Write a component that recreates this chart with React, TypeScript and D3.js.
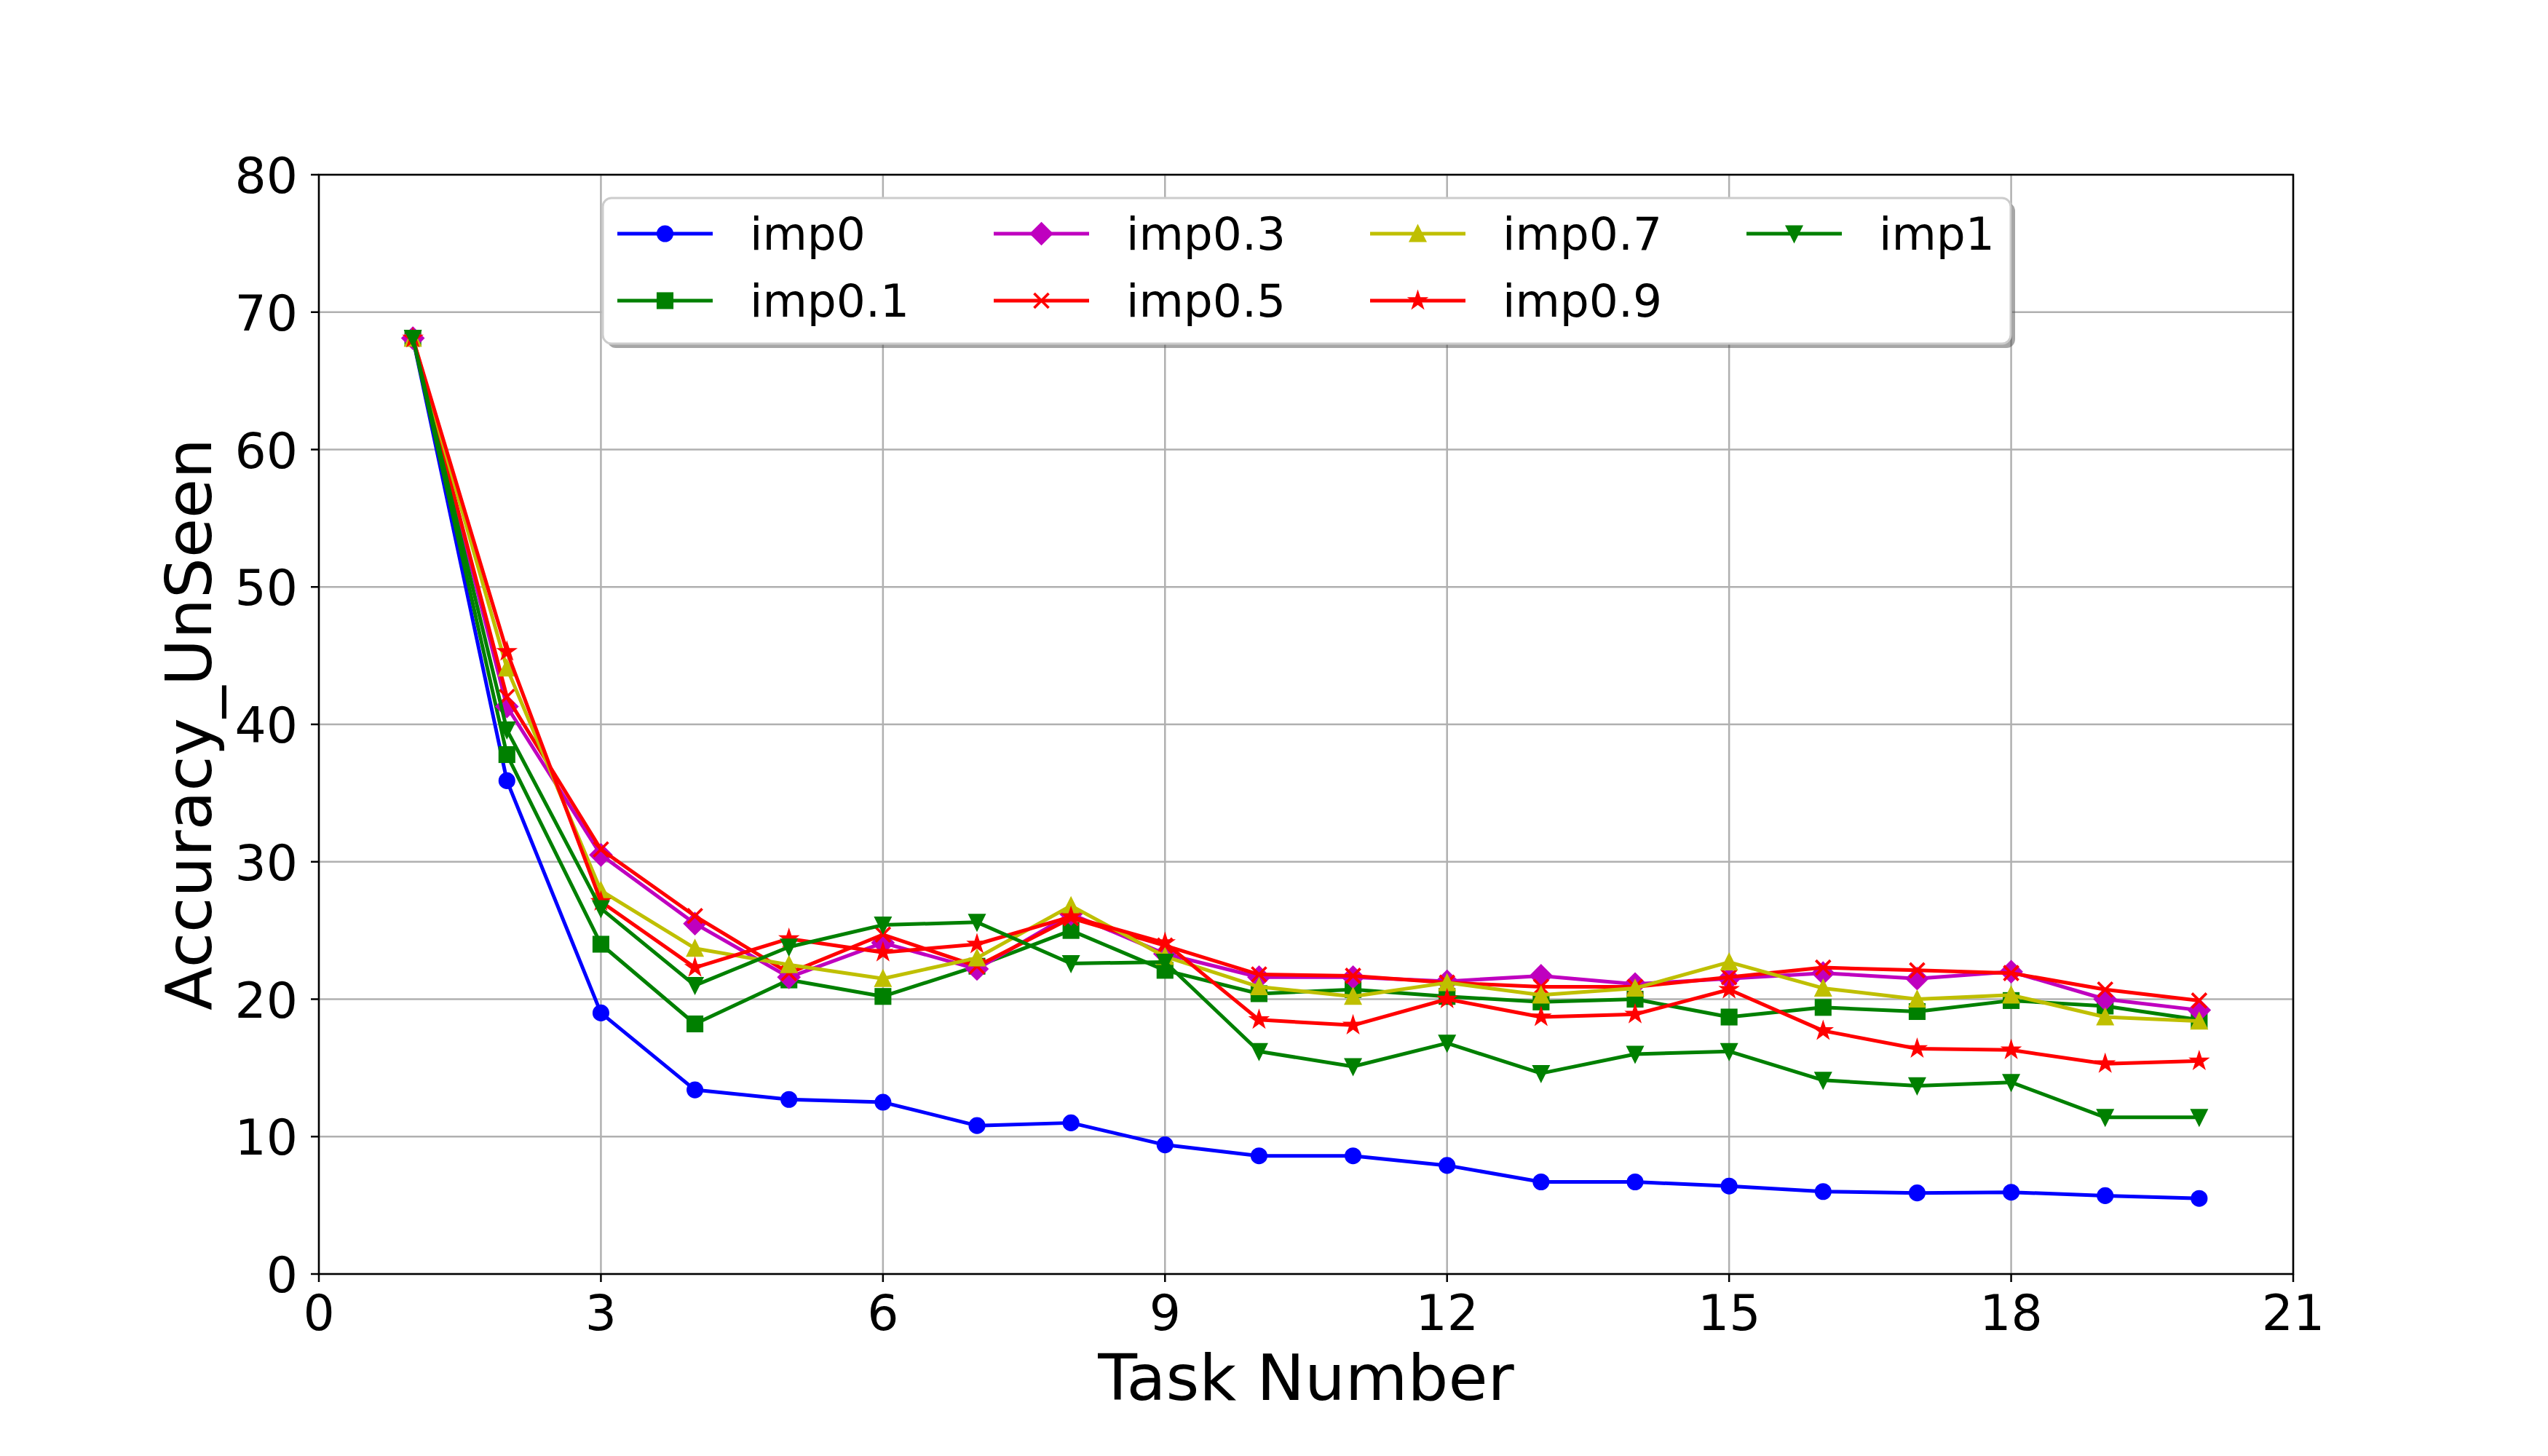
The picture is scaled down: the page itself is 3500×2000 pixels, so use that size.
import * as d3 from 'd3'

const tasks = [1, 2, 3, 4, 5, 6, 7, 8, 9, 10, 11, 12, 13, 14, 15, 16, 17, 18, 19, 20]

const imp0 = [68.1, 35.9, 19.0, 13.4, 12.7, 12.5, 10.8, 11.0, 9.4, 8.6, 8.6, 7.9, 6.7, 6.7, 6.4, 6.0, 5.9, 5.95, 5.7, 5.5]
const imp01 = [68.1, 37.8, 24.0, 18.2, 21.4, 20.2, 22.4, 25.0, 22.1, 20.4, 20.7, 20.2, 19.8, 20.0, 18.7, 19.4, 19.1, 19.9, 19.5, 18.5]
const imp03 = [68.1, 41.3, 30.5, 25.5, 21.6, 24.1, 22.2, 26.2, 23.3, 21.6, 21.6, 21.3, 21.7, 21.1, 21.5, 21.9, 21.5, 22.0, 20.0, 19.2]
const imp05 = [68.1, 42.0, 30.9, 26.05, 21.9, 24.7, 22.4, 25.9, 23.9, 21.8, 21.7, 21.2, 20.9, 20.9, 21.6, 22.3, 22.1, 21.9, 20.7, 19.9]
const imp07 = [68.1, 44.1, 27.9, 23.7, 22.5, 21.5, 23.0, 26.8, 23.1, 20.9, 20.2, 21.2, 20.3, 20.8, 22.7, 20.8, 20.0, 20.3, 18.7, 18.4]
const imp09 = [68.1, 45.3, 27.1, 22.3, 24.4, 23.4, 24.0, 26.0, 24.1, 18.5, 18.1, 20.0, 18.7, 18.9, 20.7, 17.7, 16.4, 16.3, 15.3, 15.5]
const imp1 = [68.1, 39.6, 26.6, 21.0, 23.8, 25.4, 25.6, 22.6, 22.7, 16.2, 15.1, 16.8, 14.6, 16.0, 16.2, 14.1, 13.7, 13.95, 11.4, 11.4]

const xTicks = [0, 3, 6, 9, 12, 15, 18, 21]
const yTicks = [0, 10, 20, 30, 40, 50, 60, 70, 80]

type Shape = 'o' | 's' | 'D' | 'x' | '^' | '*' | 'v'

const series: { label: string; color: string; marker: Shape; values: number[] }[] = [
  { label: 'imp0', color: '#0000ff', marker: 'o', values: imp0 },
  { label: 'imp0.1', color: '#008000', marker: 's', values: imp01 },
  { label: 'imp0.3', color: '#bf00bf', marker: 'D', values: imp03 },
  { label: 'imp0.5', color: '#ff0000', marker: 'x', values: imp05 },
  { label: 'imp0.7', color: '#bfbf00', marker: '^', values: imp07 },
  { label: 'imp0.9', color: '#ff0000', marker: '*', values: imp09 },
  { label: 'imp1', color: '#008000', marker: 'v', values: imp1 },
]

const FONT = '"DejaVu Sans", Verdana, sans-serif'
const MS = 20 // marker size
const EDGE = 3.1

function starPath(r: number) {
  const pts: string[] = []
  for (let i = 0; i < 10; i++) {
    const a = -Math.PI / 2 + (i * Math.PI) / 5
    const rr = i % 2 === 0 ? r : r * 0.381966
    pts.push(`${(Math.cos(a) * rr).toFixed(2)},${(Math.sin(a) * rr).toFixed(2)}`)
  }
  return `M${pts.join('L')}Z`
}

function Marker({ shape, x, y, color }: { shape: Shape; x: number; y: number; color: string }) {
  const h = MS / 2
  const common = { fill: color, stroke: color, strokeWidth: EDGE, strokeLinejoin: 'miter' as const }
  switch (shape) {
    case 'o':
      return <circle cx={x} cy={y} r={h} {...common} />
    case 's':
      return <rect x={x - h} y={y - h} width={MS} height={MS} {...common} />
    case 'D': {
      const d = MS * Math.SQRT1_2
      return <path transform={`translate(${x},${y})`} d={`M0,${-d}L${d},0L0,${d}L${-d},0Z`} {...common} />
    }
    case '^':
      return <path transform={`translate(${x},${y})`} d={`M0,${-h}L${h},${h}L${-h},${h}Z`} {...common} />
    case 'v':
      return <path transform={`translate(${x},${y})`} d={`M0,${h}L${h},${-h}L${-h},${-h}Z`} {...common} />
    case '*':
      return <path transform={`translate(${x},${y})`} d={starPath(h * 1.05)} {...common} />
    case 'x':
      return (
        <path
          transform={`translate(${x},${y})`}
          d={`M${-h},${-h}L${h},${h}M${-h},${h}L${h},${-h}`}
          fill="none"
          stroke={color}
          strokeWidth={EDGE + 0.6}
        />
      )
  }
}

export default function App() {
  const width = 3500
  const height = 2000
  const margin = { top: 240, right: 350, bottom: 250, left: 438 }
  const innerWidth = width - margin.left - margin.right
  const innerHeight = height - margin.top - margin.bottom

  const x = d3.scaleLinear().domain([0, 21]).range([0, innerWidth])
  const y = d3.scaleLinear().domain([0, 80]).range([innerHeight, 0])

  const line = d3
    .line<number>()
    .x((_, i) => x(tasks[i]))
    .y((v) => y(v))

  // legend geometry (4 columns, column-major order like matplotlib)
  const legend = { x: 390, y: 32, w: 1934, h: 200 }
  const colW = 517
  const rowH = 92
  const handleLen = 131

  return (
    <div style={{ position: 'absolute', left: 0, top: 0, background: '#fff' }}>
      <svg width={width} height={height} viewBox={`0 0 ${width} ${height}`} style={{ display: 'block' }}>
        <rect width={width} height={height} fill="#fff" />
        <g transform={`translate(${margin.left},${margin.top})`}>
          {/* grid */}
          {xTicks.map((t) => (
            <line key={`gx${t}`} x1={x(t)} x2={x(t)} y1={0} y2={innerHeight} stroke="#b0b0b0" strokeWidth={2.5} />
          ))}
          {yTicks.map((t) => (
            <line key={`gy${t}`} x1={0} x2={innerWidth} y1={y(t)} y2={y(t)} stroke="#b0b0b0" strokeWidth={2.5} />
          ))}

          {/* series */}
          {series.map((s) => (
            <g key={s.label}>
              <path d={line(s.values) ?? ''} fill="none" stroke={s.color} strokeWidth={5} strokeLinejoin="round" strokeLinecap="square" />
              {s.values.map((v, i) => (
                <Marker key={i} shape={s.marker} x={x(tasks[i])} y={y(v)} color={s.color} />
              ))}
            </g>
          ))}

          {/* spines */}
          <rect x={0} y={0} width={innerWidth} height={innerHeight} fill="none" stroke="#000" strokeWidth={2.5} />

          {/* x ticks */}
          {xTicks.map((t) => (
            <g key={`tx${t}`} transform={`translate(${x(t)},${innerHeight})`}>
              <line y1={0} y2={11} stroke="#000" strokeWidth={2.5} />
              <text y={77} textAnchor="middle" fontFamily={FONT} fontSize={68}>
                {t}
              </text>
            </g>
          ))}

          {/* y ticks */}
          {yTicks.map((t) => (
            <g key={`ty${t}`} transform={`translate(0,${y(t)})`}>
              <line x1={-11} x2={0} stroke="#000" strokeWidth={2.5} />
              <text x={-29} y={25} textAnchor="end" fontFamily={FONT} fontSize={68}>
                {t}
              </text>
            </g>
          ))}

          {/* axis labels */}
          <text x={innerWidth / 2} y={innerHeight + 173} textAnchor="middle" fontFamily={FONT} fontSize={88}>
            Task Number
          </text>
          <text
            transform={`translate(${290 - margin.left},${innerHeight / 2}) rotate(-90)`}
            textAnchor="middle"
            fontFamily={FONT}
            fontSize={88}
          >
            Accuracy_UnSeen
          </text>

          {/* legend */}
          <g transform={`translate(${legend.x},${legend.y})`}>
            <rect x={6} y={6} width={legend.w} height={legend.h} rx={12} fill="#4d4d4d" fillOpacity={0.5} />
            <rect width={legend.w} height={legend.h} rx={12} fill="#fff" stroke="#cccccc" strokeWidth={3} />
            {series.map((s, i) => {
              const col = Math.floor(i / 2)
              const row = i % 2
              const hx = 20 + col * colW
              const cy = 49 + row * rowH
              return (
                <g key={s.label}>
                  <line x1={hx} x2={hx + handleLen} y1={cy} y2={cy} stroke={s.color} strokeWidth={5} />
                  <Marker shape={s.marker} x={hx + handleLen / 2} y={cy} color={s.color} />
                  <text x={hx + 182} y={cy + 22} fontFamily={FONT} fontSize={63}>
                    {s.label}
                  </text>
                </g>
              )
            })}
          </g>
        </g>
      </svg>
    </div>
  )
}
